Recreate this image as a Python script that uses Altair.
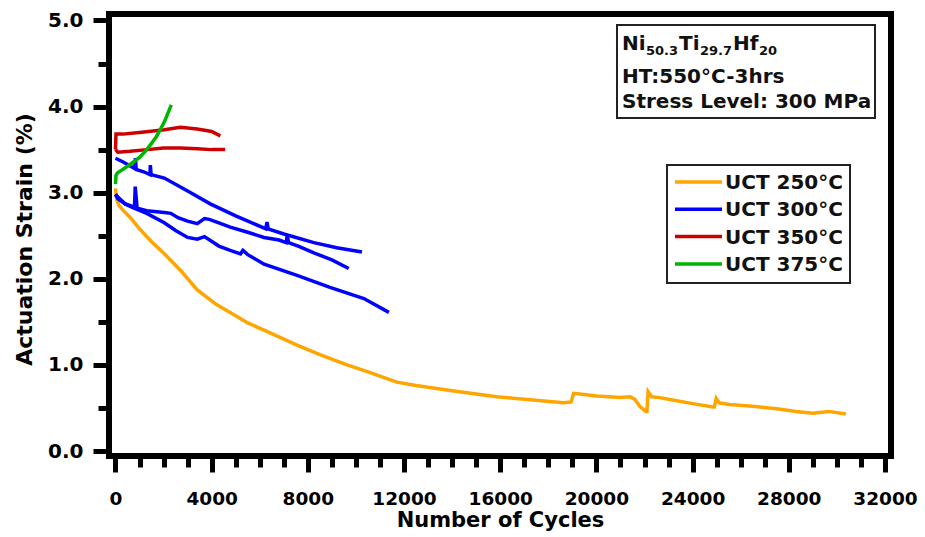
import altair as alt
import pandas as pd

# ---------------- data ----------------
series_labels = ["UCT 250°C", "UCT 300°C", "UCT 350°C", "UCT 375°C"]
series_colors = ["#FFA500", "#0000FF", "#CC0000", "#00B400"]

uct250_x = [0, 50, 150, 300, 620, 1000, 1500, 2030, 2700, 3400, 4200, 5000, 5480, 6200, 7000,
            7550, 8500, 9630, 10500, 11700, 12500, 14000, 15850, 17000, 18630, 18950, 19050,
            19400, 20000, 21000, 21400, 21600, 21800, 22050, 22100, 22150, 22300, 22620, 23000,
            24000, 24850, 24900, 24980, 25100, 25520, 26500, 27500, 28300, 29000, 29670, 30370]
uct250_y = [3.05, 2.92, 2.85, 2.80, 2.71, 2.58, 2.43, 2.29, 2.10, 1.87, 1.70, 1.57, 1.49, 1.40, 1.30,
            1.23, 1.12, 1.00, 0.92, 0.80, 0.76, 0.70, 0.63, 0.60, 0.56, 0.57, 0.67,
            0.66, 0.64, 0.62, 0.63, 0.60, 0.52, 0.46, 0.46, 0.69, 0.63, 0.62, 0.60,
            0.55, 0.51, 0.51, 0.61, 0.56, 0.54, 0.52, 0.49, 0.46, 0.44, 0.46, 0.43]

uct300a_x = [0, 300, 800, 830, 860, 1200, 1430, 1450, 1480, 2030, 3000, 3940, 5000, 6250, 6300,
             6350, 7000, 8250, 9200, 10250]
uct300a_y = [3.40, 3.36, 3.28, 3.40, 3.27, 3.24, 3.21, 3.32, 3.21, 3.17, 3.02, 2.87, 2.73, 2.58, 2.66,
             2.58, 2.52, 2.42, 2.36, 2.31]

uct300b_x = [0, 100, 400, 700, 790, 820, 900, 1300, 2030, 2300, 2600, 3000, 3400, 3700, 3900, 4300,
             4770, 5500, 6180, 6800, 7100, 7140, 7200, 7600, 8250, 9000, 9700]
uct300b_y = [2.98, 2.95, 2.87, 2.84, 2.83, 3.07, 2.82, 2.79, 2.77, 2.76, 2.71, 2.67, 2.64, 2.70, 2.69, 2.65,
             2.60, 2.54, 2.48, 2.45, 2.42, 2.50, 2.42, 2.38, 2.30, 2.22, 2.12]

uct300c_x = [0, 100, 400, 700, 1300, 2030, 2500, 3000, 3400, 3700, 4300, 4770, 5200, 5300, 5500,
             6180, 7550, 8920, 10330, 11370]
uct300c_y = [2.98, 2.93, 2.87, 2.83, 2.76, 2.65, 2.56, 2.48, 2.46, 2.49, 2.38, 2.33, 2.29, 2.33, 2.28,
             2.17, 2.04, 1.90, 1.77, 1.61]

uct350a_x = [0, 20, 300, 1000, 2030, 2700, 3400, 4000, 4360]
uct350a_y = [3.50, 3.68, 3.68, 3.70, 3.73, 3.76, 3.74, 3.71, 3.66]

uct350b_x = [0, 100, 600, 1330, 2000, 2700, 3400, 4000, 4560]
uct350b_y = [3.50, 3.47, 3.48, 3.50, 3.52, 3.52, 3.51, 3.50, 3.50]

uct375_x = [0, 20, 80, 300, 620, 1000, 1330, 1700, 2030, 2320]
uct375_y = [3.10, 3.20, 3.23, 3.27, 3.33, 3.41, 3.51, 3.65, 3.82, 4.02]

x_ticks = list(range(0, 32001, 1000))
y_ticks = [0.0, 0.5, 1.0, 1.5, 2.0, 2.5, 3.0, 3.5, 4.0, 4.5, 5.0]

box_line2 = "HT:550°C-3hrs"
box_line3 = "Stress Level: 300 MPa"

curves = [
    ("UCT 250°C", "a", uct250_x, uct250_y),
    ("UCT 300°C", "a", uct300a_x, uct300a_y),
    ("UCT 300°C", "b", uct300b_x, uct300b_y),
    ("UCT 300°C", "c", uct300c_x, uct300c_y),
    ("UCT 350°C", "a", uct350a_x, uct350a_y),
    ("UCT 350°C", "b", uct350b_x, uct350b_y),
    ("UCT 375°C", "a", uct375_x, uct375_y),
]
rows = []
for s, c, xs, ys in curves:
    for i, (xv, yv) in enumerate(zip(xs, ys)):
        rows.append({"series": s, "curve": s + c, "x": xv, "y": yv, "order": i})
df = pd.DataFrame(rows)

# ---------------- styling ----------------
FONT = "DejaVu Sans"
W, H = 782, 442

xscale = alt.Scale(domain=[-270, 32250], nice=False, zero=False)
yscale = alt.Scale(domain=[-0.058, 5.075], nice=False, zero=False)

x_axis = alt.Axis(
    title="Number of Cycles", values=x_ticks, format="d",
    labelExpr="datum.value % 4000 === 0 ? datum.label : ''",
    tickSize={"condition": {"test": "datum.value % 4000 === 0", "value": 16}, "value": 11},
    tickWidth=5, tickColor="black", domain=False, grid=False,
    labelFont=FONT, labelFontSize=18.5, labelFontWeight="bold", labelColor="black",
    labelPadding=17, labelOverlap=False, labelFlush=False, labelBound=False,
    titleFont=FONT, titleFontSize=21, titleFontWeight="bold", titleColor="black",
    titleX=W / 2, titleY=70, titleBaseline="alphabetic", titleAlign="center",
)
y_axis = alt.Axis(
    title="Actuation Strain (%)", values=y_ticks, format=".1f",
    labelExpr="datum.value % 1 === 0 ? datum.label : ''",
    tickSize={"condition": {"test": "datum.value % 1 === 0", "value": 16}, "value": 11},
    tickWidth=5, tickColor="black", domain=False, grid=False,
    labelFont=FONT, labelFontSize=20, labelFontWeight="bold", labelColor="black",
    labelPadding=10, labelOverlap=False, labelFlush=False, labelBound=False,
    titleFont=FONT, titleFontSize=22, titleFontWeight="bold", titleColor="black",
    titleX=-85, titleY=225, titleAngle=270, titleAlign="center", titleBaseline="middle",
)

lines = alt.Chart(df).mark_line(strokeWidth=3.5).encode(
    x=alt.X("x:Q", scale=xscale, axis=x_axis),
    y=alt.Y("y:Q", scale=yscale, axis=y_axis),
    color=alt.Color("series:N", scale=alt.Scale(domain=series_labels, range=series_colors), legend=None),
    detail="curve:N",
    order="order:Q",
)

one = pd.DataFrame({"k": [0]})
layers = [lines]

# annotation box
layers.append(alt.Chart(one).mark_rect(fill="white", stroke="#222", strokeWidth=2).encode(
    x=alt.value(508), x2=alt.value(766), y=alt.value(11), y2=alt.value(104)))
pieces = [("Ni", 513, 36, 20), ("50.3", 537, 41, 13), ("Ti", 570, 36, 20),
          ("29.7", 591, 41, 13), ("Hf", 624, 36, 20), ("20", 650, 41, 13)]
for txt, px, py, fs in pieces:
    layers.append(alt.Chart(one).mark_text(text=txt, align="left", baseline="alphabetic", font=FONT,
                                           fontWeight="bold", fontSize=fs, color="#111").encode(
        x=alt.value(px), y=alt.value(py)))
for txt, py in [(box_line2, 69), (box_line3, 94)]:
    layers.append(alt.Chart(one).mark_text(text=txt, align="left", baseline="alphabetic", font=FONT,
                                           fontWeight="bold", fontSize=20, color="#111").encode(
        x=alt.value(513), y=alt.value(py)))

# legend
layers.append(alt.Chart(one).mark_rect(fill="white", stroke="#222", strokeWidth=2).encode(
    x=alt.value(558), x2=alt.value(741), y=alt.value(151), y2=alt.value(269)))
for i, (lab, col) in enumerate(zip(series_labels, series_colors)):
    yy = 168 + 27.3 * i
    layers.append(alt.Chart(one).mark_rule(color=col, strokeWidth=3.5).encode(
        x=alt.value(566), x2=alt.value(613), y=alt.value(yy)))
    layers.append(alt.Chart(one).mark_text(text=lab, align="left", baseline="middle", font=FONT,
                                           fontWeight="bold", fontSize=20, color="#111").encode(
        x=alt.value(616), y=alt.value(yy + 1)))

chart = alt.layer(*layers).properties(
    width=W, height=H,
    padding={"left": 101, "top": 6, "right": 26, "bottom": 76},
    autosize=alt.AutoSizeParams(type="none"),
).configure(background="white").configure_view(stroke="black", strokeWidth=6)

chart.save("out.html", embed_options={"renderer": "svg", "actions": False})
